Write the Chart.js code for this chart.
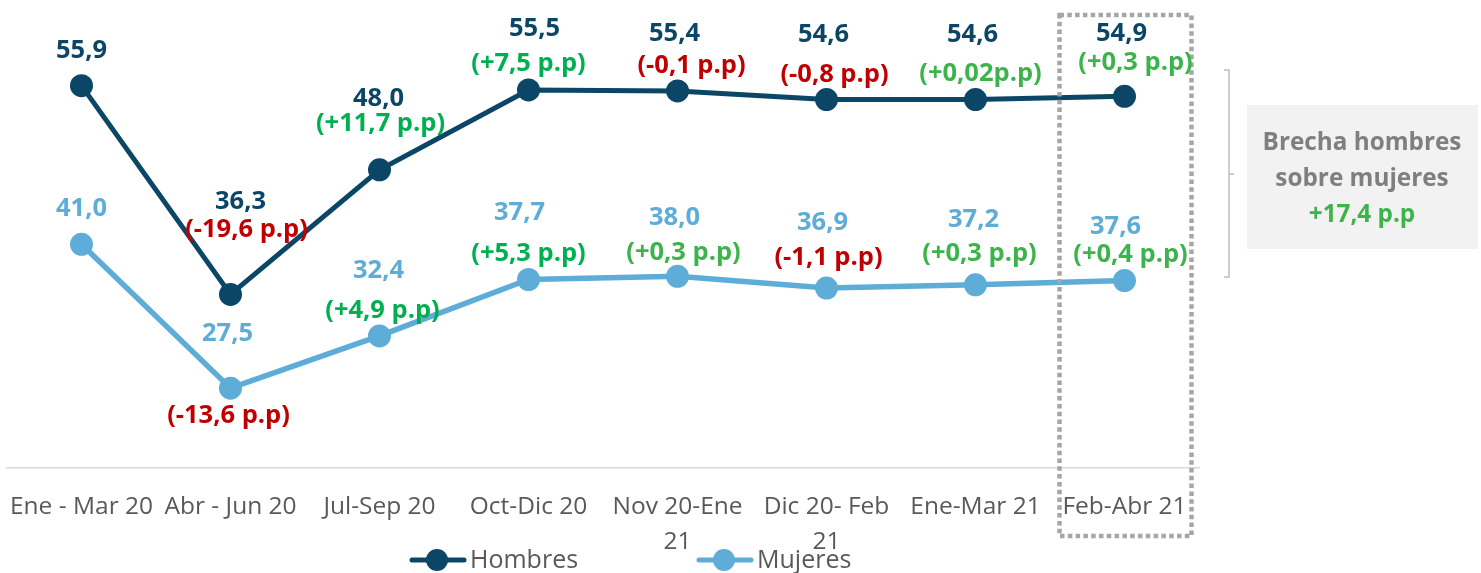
<!DOCTYPE html>
<html>
<head>
<meta charset="utf-8">
<script src="https://cdn.jsdelivr.net/npm/chart.js@4.4.1/dist/chart.umd.min.js"></script>
<style>
  html, body { margin: 0; padding: 0; background: #ffffff; }
  #wrap { width: 1481px; height: 573px; position: relative; }
</style>
</head>
<body>
<div id="wrap"><canvas id="c"></canvas></div>
<script>
// ---- data ----
const categories = ['Ene - Mar 20', 'Abr - Jun 20', 'Jul-Sep 20', 'Oct-Dic 20', ['Nov 20-Ene', '21'], ['Dic 20- Feb', '21'], 'Ene-Mar 21', 'Feb-Abr 21'];
const hombres = [55.9, 36.3, 48.0, 55.5, 55.4, 54.6, 54.6, 54.9];
const mujeres = [41.0, 27.5, 32.4, 37.7, 38.0, 36.9, 37.2, 37.6];
const hombresChange = [null, '(-19,6 p.p)', '(+11,7 p.p)', '(+7,5 p.p)', '(-0,1 p.p)', '(-0,8 p.p)', '(+0,02p.p)', '(+0,3 p.p)'];
const mujeresChange = [null, '(-13,6 p.p)', '(+4,9 p.p)', '(+5,3 p.p)', '(+0,3 p.p)', '(-1,1 p.p)', '(+0,3 p.p)', '(+0,4 p.p)'];
const gapTitle = ['Brecha hombres', 'sobre mujeres'];
const gapValue = '+17,4 p.p';
const seriesNames = ['Hombres', 'Mujeres'];

// ---- styles / layout ----
const FONT = "'Open Sans', 'Noto Sans', sans-serif";
const C_H = '#0b4666';
const C_M = '#5eacd8';
const RED = '#c00000';
const GREEN1 = '#00b050';
const GREEN2 = '#3cb44b';
const GRAY_T = '#595959';

// label offsets relative to the point: [dx, dy] for value label and change label
const labelLayout = [
  { v: [[0,-35],[10,-93],[-1,-71],[6,-61],[-3,-57],[-3,-65],[-3,-65],[-3,-63]],
    c: [null,[16,-65],[1,-46],[0,-26],[14,-25],[8,-25],[5,-26],[11,-34]],
    g: [null,RED,GREEN1,GREEN1,RED,RED,GREEN2,GREEN2] },
  { v: [[0,-36],[-3,-54],[-1,-65],[-9,-67],[-3,-59],[-4,-65],[-2,-65],[-9,-54]],
    c: [null,[-2,28],[3,-25],[0,-26],[6,-24],[2,-30],[4,-31],[6,-26]],
    g: [null,RED,GREEN1,GREEN1,GREEN2,RED,GREEN2,GREEN2] }
];

const fmt = v => v.toFixed(1).replace('.', ',');

const overlayPlugin = {
  id: 'overlay',
  afterDatasetsDraw(chart) {
    const ctx = chart.ctx;
    const xs = chart.scales.x;
    // dotted highlight rectangle around last category
    const xc = xs.getPixelForValue(categories.length - 1);
    ctx.save();
    ctx.strokeStyle = '#a6a6a6';
    ctx.lineWidth = 4.5;
    ctx.setLineDash([4.5, 3.3]);
    ctx.strokeRect(xc - 65, 15, 132, 521);
    ctx.restore();

    // labels
    const changes = [hombresChange, mujeresChange];
    ctx.save();
    ctx.textAlign = 'center';
    ctx.textBaseline = 'middle';
    chart.data.datasets.forEach((ds, di) => {
      const meta = chart.getDatasetMeta(di);
      const lay = labelLayout[di];
      meta.data.forEach((pt, i) => {
        ctx.font = 'bold 25.5px ' + FONT;
        ctx.fillStyle = ds.borderColor;
        ctx.fillText(fmt(ds.data[i]), pt.x + lay.v[i][0], pt.y + lay.v[i][1]);
        const ch = changes[di][i];
        if (ch) {
          ctx.fillStyle = lay.g[i];
          ctx.fillText(ch, pt.x + lay.c[i][0], pt.y + lay.c[i][1]);
        }
      });
    });
    ctx.restore();
  },
  afterDraw(chart) {
    const ctx = chart.ctx;
    ctx.save();
    // bracket
    ctx.strokeStyle = '#bfbfbf';
    ctx.lineWidth = 1.5;
    ctx.beginPath();
    ctx.moveTo(1224, 70); ctx.lineTo(1229, 70); ctx.lineTo(1229, 277); ctx.lineTo(1224, 277);
    ctx.moveTo(1229, 174); ctx.lineTo(1234, 174);
    ctx.stroke();
    // gap box
    ctx.fillStyle = '#f2f2f2';
    ctx.fillRect(1247, 105, 231, 144);
    ctx.textAlign = 'center';
    ctx.textBaseline = 'middle';
    ctx.font = 'bold 24.3px ' + FONT;
    ctx.fillStyle = '#7f7f7f';
    ctx.fillText(gapTitle[0], 1362, 143);
    ctx.fillText(gapTitle[1], 1362, 179);
    ctx.fillStyle = GREEN2;
    ctx.fillText(gapValue, 1362, 215);

    // legend
    const items = [[seriesNames[0], C_H, 410], [seriesNames[1], C_M, 697]];
    const ly = 560;
    items.forEach(([name, col, x0]) => {
      ctx.strokeStyle = col;
      ctx.lineWidth = 5;
      ctx.lineCap = 'round';
      ctx.beginPath(); ctx.moveTo(x0 + 2, ly); ctx.lineTo(x0 + 54, ly); ctx.stroke();
      ctx.fillStyle = col;
      ctx.beginPath(); ctx.arc(x0 + 27, ly, 11, 0, Math.PI * 2); ctx.fill();
      ctx.fillStyle = GRAY_T;
      ctx.textAlign = 'left';
      ctx.font = '25px ' + FONT;
      ctx.fillText(name, x0 + 60, ly + 1);
    });
    ctx.restore();
  }
};

new Chart(document.getElementById('c'), {
  type: 'line',
  data: {
    labels: categories,
    datasets: [
      { label: seriesNames[0], data: hombres, borderColor: C_H, backgroundColor: C_H,
        pointBackgroundColor: C_H, pointBorderColor: C_H, borderWidth: 5, pointRadius: 11.5,
        pointBorderWidth: 0, tension: 0, fill: false, clip: false },
      { label: seriesNames[1], data: mujeres, borderColor: C_M, backgroundColor: C_M,
        pointBackgroundColor: C_M, pointBorderColor: C_M, borderWidth: 5.5, pointRadius: 11.5,
        pointBorderWidth: 0, tension: 0, fill: false, clip: false }
    ]
  },
  options: {
    responsive: true,
    maintainAspectRatio: false,
    animation: false,
    layout: { autoPadding: false, padding: { left: 7, right: 282, top: 42, bottom: 0 } },
    plugins: { legend: { display: false }, tooltip: { enabled: false } },
    scales: {
      x: {
        offset: true,
        grid: { display: false },
        border: { display: true, color: '#d9d9d9', width: 1.5 },
        ticks: { color: GRAY_T, font: { family: FONT, size: 24.5, lineHeight: '35px' },
                 padding: 14, maxRotation: 0, autoSkip: false },
        afterFit: s => { s.height = 105; s.paddingLeft = 0; s.paddingRight = 0; }
      },
      y: { display: false, min: 20, max: 60 }
    }
  },
  plugins: [overlayPlugin]
});
</script>
</body>
</html>
